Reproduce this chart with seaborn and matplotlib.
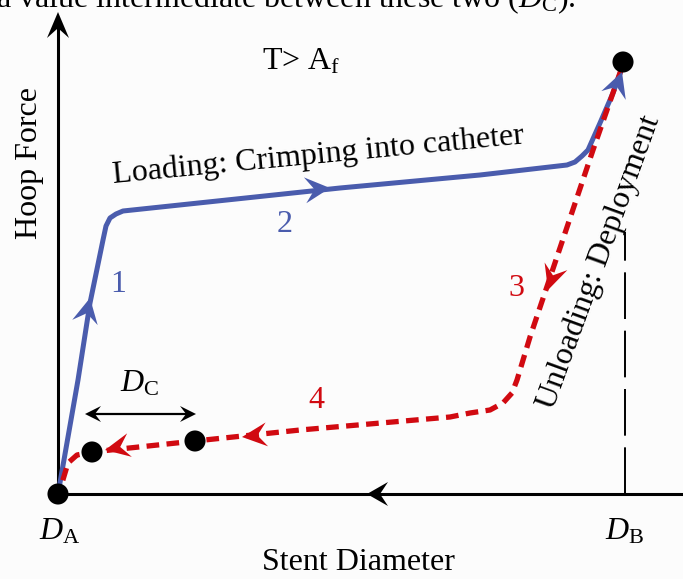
import numpy as np
import matplotlib
matplotlib.use("Agg")
import matplotlib.pyplot as plt
import seaborn as sns

# schematic hysteresis loop of a superelastic stent (T > Af)
# coordinates: stent diameter (x) vs hoop force (y), arbitrary units
load_x = [0, 20, 32, 45, 48, 52, 58, 65, 282, 422, 509, 517, 524, 530, 534, 542, 555, 564]
load_y = [0, 114, 191, 254, 268, 276, 280, 283, 306, 319, 329, 332, 338, 344, 353, 371, 401, 426]

unload_x = [563, 535, 472, 459, 454, 445, 432, 412, 392, 242, 137, 34, 19, 10, 7, 4, 1]
unload_y = [424, 344, 157, 114, 101, 91, 84, 81, 77, 64, 53, 42, 39, 31, 21, 11, 2]

# marked states: D_A, D_B (top), and the two dots bounding D_C
point_x = [0, 565, 34, 137]
point_y = [0, 432, 42, 53]

# arrow tips along the paths
load_arrows = [(32, 196), (272, 306), (564, 422)]
unload_arrows = [(490, 204), (184, 57), (47, 44)]

blue = "#4a5cad"
red = "#d10a11"

sns.set_theme(style="white")
plt.rcParams["font.family"] = ["Liberation Serif", "DejaVu Serif"]
plt.rcParams["text.color"] = "black"
plt.rcParams["mathtext.fontset"] = "custom"
plt.rcParams["mathtext.rm"] = "Liberation Serif"
plt.rcParams["mathtext.it"] = "Liberation Serif:italic"

fig = plt.figure(figsize=(6.83, 5.79), dpi=100, facecolor="#fcfcfc")
ax = fig.add_axes([0, 0, 1, 1])
ax.set_facecolor("#fcfcfc")
ax.set_xlim(-58, 625)
ax.set_ylim(-85, 494)
ax.axis("off")


def stealth(ax, tip, angle, length, half, color, z=5):
    a = np.deg2rad(angle)
    d = np.array([np.cos(a), np.sin(a)])
    n = np.array([-d[1], d[0]])
    t = np.array(tip, dtype=float)
    pts = [t, t - length * d + half * n, t - 0.62 * length * d, t - length * d - half * n]
    pts = np.array(pts)
    ax.fill(pts[:, 0], pts[:, 1], color=color, lw=0, zorder=z)


def dir_on_path(xs, ys, p):
    xs = np.asarray(xs, float)
    ys = np.asarray(ys, float)
    best, ang = 1e9, 0
    for i in range(len(xs) - 1):
        mx, my = (xs[i] + xs[i + 1]) / 2, (ys[i] + ys[i + 1]) / 2
        dist = np.hypot(mx - p[0], my - p[1])
        if dist < best:
            best = dist
            ang = np.degrees(np.arctan2(ys[i + 1] - ys[i], xs[i + 1] - xs[i]))
    return ang


# axes of the schematic
ax.plot([0, 0], [0, 468], color="black", lw=2.2, zorder=2)
stealth(ax, (0, 482), 90, 26, 11, "black")
ax.plot([0, 625], [0, 0], color="black", lw=2.2, zorder=2)
stealth(ax, (309, 0), 180, 21, 12, "black")
ax.plot([567, 567], [0, 262], color="black", lw=1.4, ls=(0, (24, 6)), zorder=1)

# loading and unloading paths
sns.lineplot(x=load_x, y=load_y, sort=False, estimator=None, color=blue, lw=3.6,
             ax=ax, zorder=3, solid_joinstyle="round", solid_capstyle="round")
sns.lineplot(x=unload_x, y=unload_y, sort=False, estimator=None, color=red, lw=3.8,
             ax=ax, zorder=3.5, dashes=False, linestyle=(0, (2.4, 1.4)))

for p in load_arrows:
    stealth(ax, p, dir_on_path(load_x, load_y, p), 25, 13, blue)
for p in unload_arrows:
    stealth(ax, p, dir_on_path(unload_x, unload_y, p), 25, 12, red)

sns.scatterplot(x=point_x, y=point_y, s=230, color="black", edgecolor="none",
                ax=ax, zorder=6)

# D_C dimension arrow
ax.plot([35, 130], [80, 80], color="black", lw=1.6, zorder=4)
stealth(ax, (27, 80), 180, 16, 8, "black")
stealth(ax, (138, 80), 0, 16, 8, "black")

fs = 23
ax.text(-62, 487, r"a value intermediate between these two ($D_{\mathrm{C}}$).", fontsize=fs,
        ha="left", va="baseline")
ax.text(204, 424, r"T> A$_{\mathrm{f}}$", fontsize=fs, ha="left", va="baseline")
ax.text(-28, 331, "Hoop Force", fontsize=fs, rotation=90, ha="center", va="center")
ax.text(260, 338, "Loading: Crimping into catheter", fontsize=fs, rotation=5.5,
        rotation_mode="anchor", ha="center", va="center")
ax.text(541, 232, "Unloading: Deployment", fontsize=fs, rotation=70,
        rotation_mode="anchor", ha="center", va="center")
ax.text(60, 209, "1", fontsize=fs, color=blue, ha="center", va="center")
ax.text(227, 270, "2", fontsize=fs, color=blue, ha="center", va="center")
ax.text(458, 205, "3", fontsize=fs, color=red, ha="center", va="center")
ax.text(258, 93, "4", fontsize=fs, color=red, ha="center", va="center")
ax.text(82, 110, r"$D_{\mathrm{C}}$", fontsize=fs, ha="center", va="center")
ax.text(2, -38, r"$D_{\mathrm{A}}$", fontsize=fs, ha="center", va="center")
ax.text(567, -38, r"$D_{\mathrm{B}}$", fontsize=fs, ha="center", va="center")
ax.text(300, -69, "Stent Diameter", fontsize=fs, ha="center", va="center")

fig.savefig("out.png", dpi=100, facecolor=fig.get_facecolor())
